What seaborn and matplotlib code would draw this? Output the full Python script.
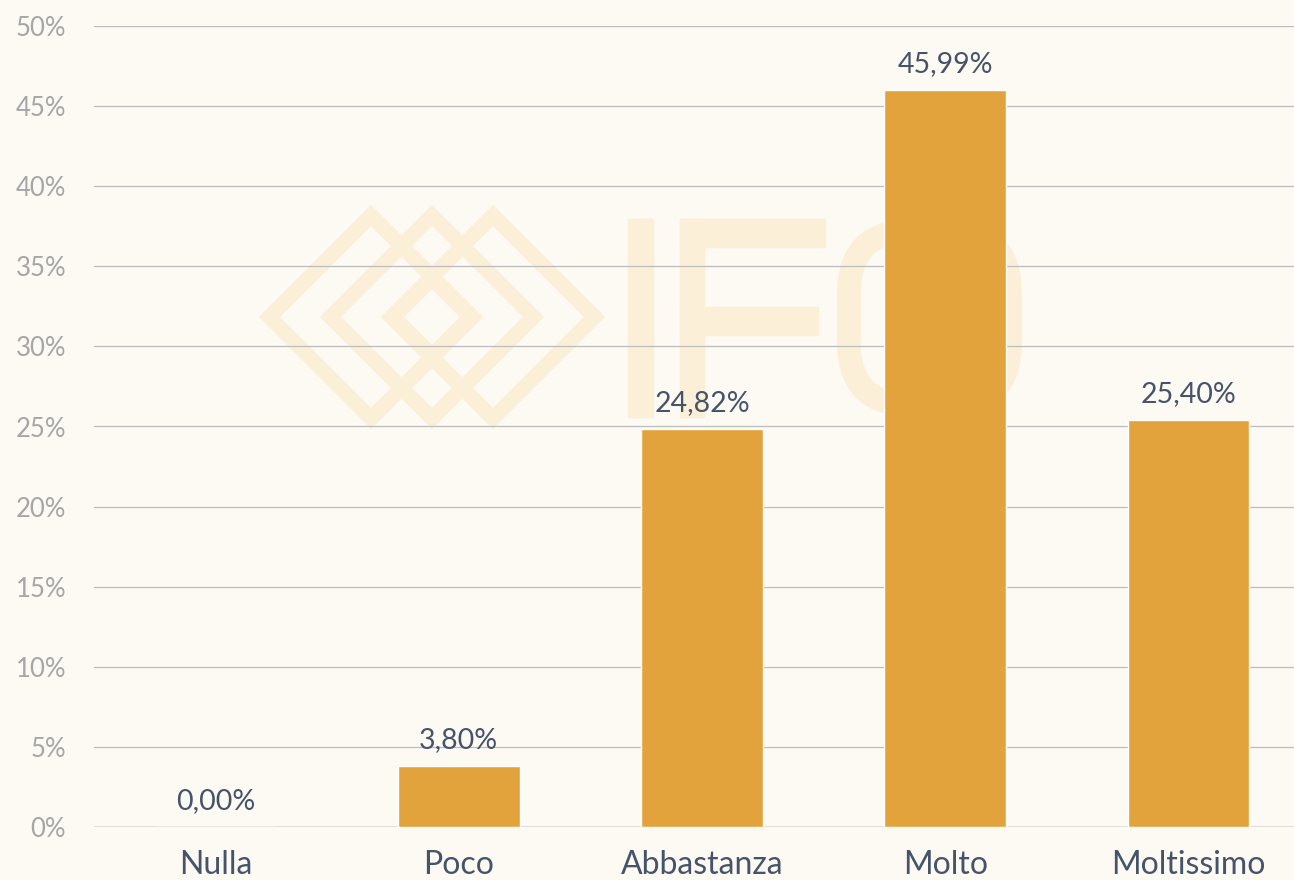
import matplotlib
matplotlib.use("Agg")
import matplotlib.pyplot as plt
import matplotlib.transforms as mtransforms
from matplotlib.patches import Polygon, Rectangle, FancyBboxPatch
import seaborn as sns
import pandas as pd

# chart data
categories = ["Nulla", "Poco", "Abbastanza", "Molto", "Moltissimo"]
values = [0.00, 3.80, 24.82, 45.99, 25.40]
y_ticks = [0, 5, 10, 15, 20, 25, 30, 35, 40, 45, 50]

bg = "#FDF9F3"
bar_color = "#E2A23C"
text_color = "#44546A"
tick_gray = "#A6A6A6"
mark_color = "#FCEFD7"

sns.set_theme(style="white")
plt.rcParams["font.family"] = ["Lato", "DejaVu Sans"]

df = pd.DataFrame({"cat": categories, "val": values})

fig = plt.figure(figsize=(12.94, 8.8), dpi=100, facecolor=bg)
ax = fig.add_axes([94 / 1294, 53 / 880, 1216 / 1294, 801 / 880])
ax.set_facecolor(bg)

sns.barplot(data=df, x="cat", y="val", color=bar_color, width=0.5,
            saturation=1, ax=ax, zorder=3)

ax.set_xlim(-0.5, 4.5)
ax.set_ylim(0, 50)
ax.set_yticks(y_ticks)
ax.set_yticklabels([f"{t}%" for t in y_ticks])
ax.set_xlabel("")
ax.set_ylabel("")
ax.yaxis.grid(True, color="#BDBDBD", linewidth=0.9)
ax.set_axisbelow(True)
ax.axhline(0, color="#D9D9D9", linewidth=1.1, zorder=2)
for s in ax.spines.values():
    s.set_visible(False)
ax.tick_params(axis="y", length=0, pad=20, labelsize=18.5, labelcolor=tick_gray)
ax.tick_params(axis="x", length=0, pad=16.5, labelsize=23, labelcolor=text_color)

# value labels
for i, v in enumerate(values):
    ax.annotate(f"{v:.2f}%".replace(".", ","), (i, v), xytext=(0, 13),
                textcoords="offset points", ha="center", va="baseline",
                fontsize=20.5, color=text_color)

# faint watermark logo (pixel coordinates, y measured from top)
px = mtransforms.Affine2D().scale(1, -1).translate(0, 880)
cy = 317
for cx, hs in [(371, 101.5), (432, 101.5), (493, 101.5), (432, 38.5)]:
    ax.add_patch(Polygon([(cx - hs, cy), (cx, cy - hs), (cx + hs, cy), (cx, cy + hs)],
                         closed=True, fill=False, edgecolor=mark_color,
                         linewidth=10.8, joinstyle="miter", transform=px,
                         zorder=0.2, clip_on=False))
# I
ax.add_patch(Rectangle((628, 219), 25, 198, color=mark_color, transform=px,
                       zorder=0.2, clip_on=False))
# F
ax.add_patch(Rectangle((680, 219), 24, 198, color=mark_color, transform=px,
                       zorder=0.2, clip_on=False))
ax.add_patch(Rectangle((680, 219), 145, 28, color=mark_color, transform=px,
                       zorder=0.2, clip_on=False))
ax.add_patch(Rectangle((680, 307), 138, 28, color=mark_color, transform=px,
                       zorder=0.2, clip_on=False))
# O
ax.add_patch(FancyBboxPatch((849, 231), 161, 174,
                            boxstyle="round,pad=0,rounding_size=62",
                            fill=False, edgecolor=mark_color, linewidth=17,
                            transform=px, zorder=0.2, clip_on=False))

fig.savefig("out.png", dpi=100, facecolor=bg)
